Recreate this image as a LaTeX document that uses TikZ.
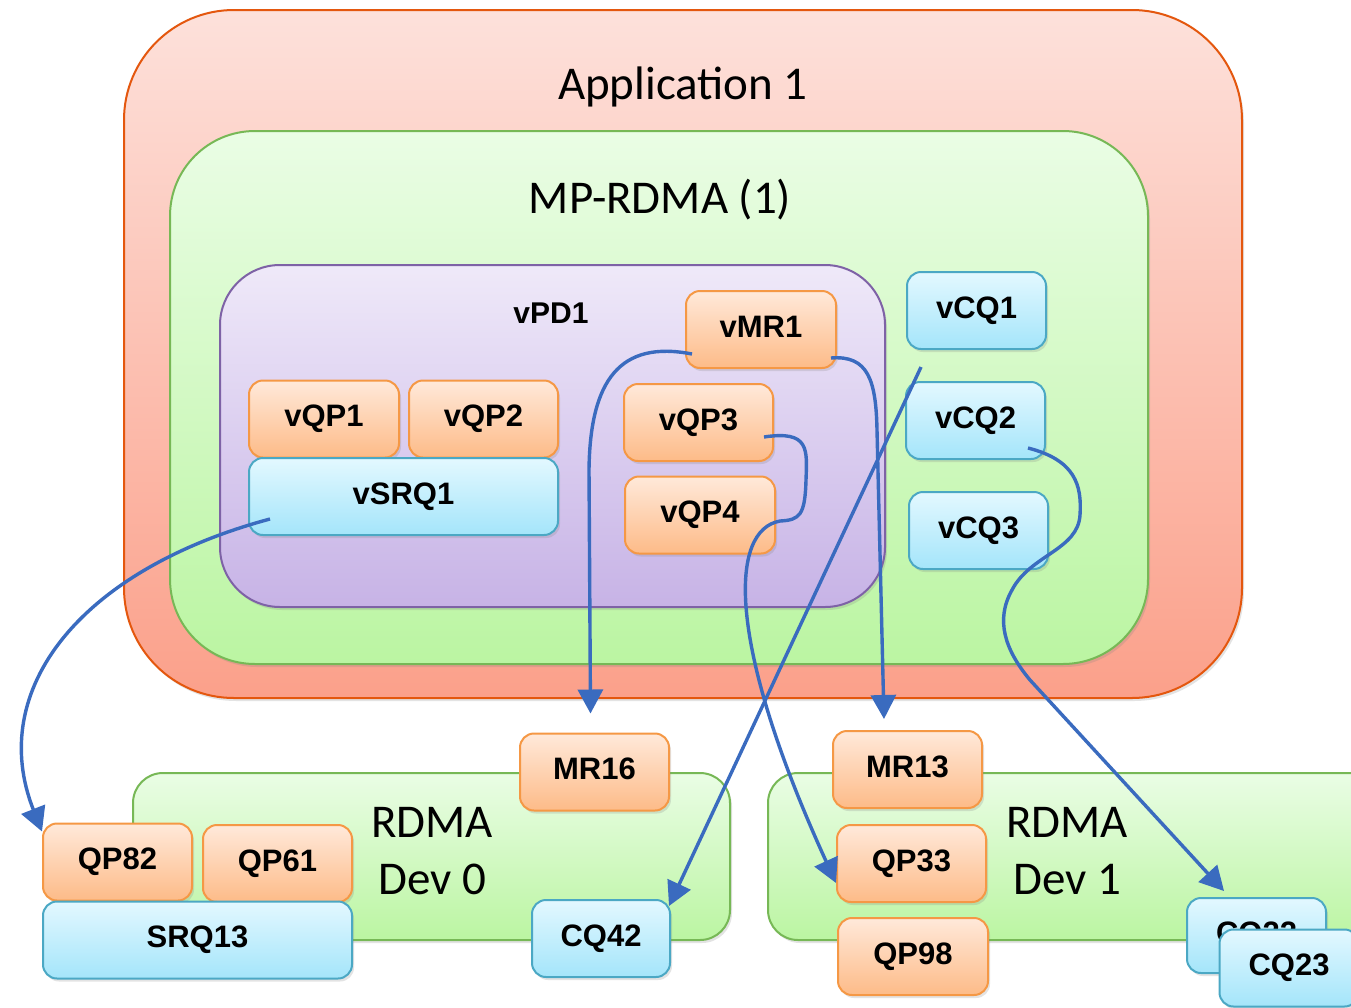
\documentclass[tikz,border=0pt]{standalone}
\usepackage{fontspec}
\setmainfont{Liberation Sans}
\newfontfamily\calibfont{Carlito}
\usetikzlibrary{arrows.meta,shadows}

\definecolor{appTop}{HTML}{FDE1DB}
\definecolor{appBot}{HTML}{FBA08A}
\definecolor{appLine}{HTML}{E4570E}
\definecolor{grnTop}{HTML}{EAFDE5}
\definecolor{grnBot}{HTML}{BBF5A2}
\definecolor{grnLine}{HTML}{77B856}
\definecolor{purTop}{HTML}{EFE9F9}
\definecolor{purBot}{HTML}{C7B3E6}
\definecolor{purLine}{HTML}{7E62A6}
\definecolor{orgTop}{HTML}{FFE9DA}
\definecolor{orgBot}{HTML}{FDBB88}
\definecolor{orgLine}{HTML}{F59845}
\definecolor{bluTop}{HTML}{E3F8FF}
\definecolor{bluBot}{HTML}{A4E5FA}
\definecolor{bluLine}{HTML}{4BA8C4}
\definecolor{arrowBlue}{HTML}{3A6BBF}

\begin{document}
\begin{tikzpicture}[x=1pt,y=-1pt,
  softshadow/.style={drop shadow={shadow xshift=2pt,shadow yshift=-3pt,opacity=0.22}},
  container/.style={inner sep=0pt, line width=2pt, softshadow},
  appbox/.style={container, top color=appTop, bottom color=appBot, draw=appLine, rounded corners=110pt},
  mpbox/.style={container, top color=grnTop, bottom color=grnBot, draw=grnLine, rounded corners=85pt},
  pdbox/.style={container, top color=purTop, bottom color=purBot, draw=purLine, rounded corners=60pt},
  devbox/.style={container, top color=grnTop, bottom color=grnBot, draw=grnLine, rounded corners=30pt},
  item/.style={rounded corners=14pt, line width=2pt, inner sep=0pt,
    minimum width=150pt, minimum height=77pt, text height=15pt, text depth=0pt,
    font=\fontsize{31}{36}\selectfont\bfseries, softshadow},
  obox/.style={item, top color=orgTop, bottom color=orgBot, draw=orgLine},
  bbox/.style={item, top color=bluTop, bottom color=bluBot, draw=bluLine},
  biglbl/.style={font=\calibfont\fontsize{47}{57}\selectfont, inner sep=0pt, anchor=base},
  boldlbl/.style={font=\fontsize{30}{36}\selectfont\bfseries, inner sep=0pt, anchor=base},
  conn/.style={draw=arrowBlue, line width=3.4pt, -{Triangle[length=24pt,width=25pt]}}
]
\useasboundingbox (0,0) rectangle (1351,1007);
\fill[white] (0,0) rectangle (1351,1007);

% nested containers
\node[appbox, minimum width=1118pt, minimum height=688pt] (app) at (683,354) {};
\node[mpbox, minimum width=978pt, minimum height=533pt] (mp) at (659,397.5) {};
\node[pdbox, minimum width=665pt, minimum height=342pt] (pd) at (552.5,436) {};
\node[biglbl] (applbl) at (683,99) {Application 1};
\node[biglbl] (mplbl) at (660,213) {MP-RDMA (1)};
\node[boldlbl] (pdlbl) at (551,323) {vPD1};

% virtual objects
\node[obox] (vmr1) at (761,329.5) {vMR1};
\node[obox] (vqp1) at (324,419) {vQP1};
\node[obox, minimum width=149pt] (vqp2) at (483.5,419) {vQP2};
\node[bbox, minimum width=309pt] (vsrq1) at (403.5,496.5) {vSRQ1};
\node[obox, minimum width=149pt] (vqp3) at (698.5,422.5) {vQP3};
\node[obox] (vqp4) at (700,515) {vQP4};
\node[bbox, minimum width=139pt] (vcq1) at (976.5,310.5) {vCQ1};
\node[bbox, minimum width=139pt] (vcq2) at (975.5,420.5) {vCQ2};
\node[bbox, minimum width=139pt] (vcq3) at (978.5,530.5) {vCQ3};

% device 0
\node[devbox, minimum width=597pt, minimum height=167pt] (dev0) at (431.5,856.5) {};
\node[biglbl] (dev0a) at (432,837) {RDMA};
\node[biglbl] (dev0b) at (432,894) {Dev 0};
\node[obox, minimum width=149pt] (mr16) at (594.5,772) {MR16};
\node[obox, minimum width=149pt] (qp82) at (117.5,862) {QP82};
\node[obox, minimum width=149pt] (qp61) at (277.5,863.5) {QP61};
\node[bbox, minimum width=309pt] (srq13) at (197.5,940) {SRQ13};
\node[bbox, minimum width=138pt] (cq42) at (601,938.5) {CQ42};

% device 1
\node[devbox, minimum width=632pt, minimum height=167pt] (dev1) at (1084,856.5) {};
\node[biglbl] (dev1a) at (1067,837) {RDMA};
\node[biglbl] (dev1b) at (1067,894) {Dev 1};
\node[obox, minimum width=149pt] (mr13) at (907.5,769.5) {MR13};
\node[obox, minimum width=149pt] (qp33) at (911.5,863.5) {QP33};
\node[obox] (qp98) at (913,956.5) {QP98};
\node[bbox, minimum width=139pt, minimum height=75pt] (cq22) at (1256.5,935.5) {CQ22};
\node[bbox, minimum width=139pt] (cq23) at (1289,968) {CQ23};

% mappings from virtual to physical objects
\draw[conn] ([shift={(22pt,17pt)}]vsrq1.south west)
  .. controls (80,570) and (-14,690) .. ([yshift=-9pt]qp82.north west);
\draw[conn] ([shift={(7pt,15pt)}]vmr1.south west)
  .. controls (620,340) and (590,380) .. (589,470) -- ([shift={(-4pt,19pt)}]mr16.north);
\draw[conn] ([shift={(-6pt,11pt)}]vmr1.south east)
  .. controls (868,355) and (876,380) .. (877,430) -- ([shift={(-23.5pt,11pt)}]mr13.north);
\draw[conn] ([shift={(16pt,14pt)}]vcq2.north west) -- ([shift={(-2pt,-7pt)}]cq42.north east);
\draw[conn] ([shift={(-10pt,-14.5pt)}]vqp3.east)
  .. controls (810,430) and (807,450) .. (806,480)
  .. controls (805,515) and (800,520) .. (780,521)
  .. controls (730,530) and (725,640) .. ([yshift=-19.5pt]qp33.west);
\draw[conn] ([shift={(-18pt,12pt)}]vcq2.south east)
  .. controls (1075,460) and (1082,485) .. (1080,515)
  .. controls (1078,550) and (1030,555) .. (1012,590)
  .. controls (995,620) and (1005,650) .. (1030,680)
  -- ([shift={(38pt,6pt)}]cq22.north west);
\end{tikzpicture}
\end{document}
